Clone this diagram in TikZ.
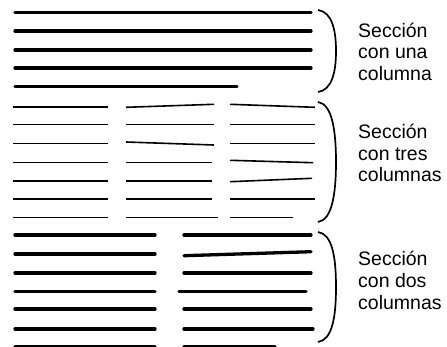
\documentclass[tikz,border=0pt]{standalone}
\usepackage{fontspec}
\setmainfont{Liberation Sans}

\begin{document}
\begin{tikzpicture}[x=1pt,y=-1pt,
        wide/.style={line width=3.3pt,line cap=round},
        narrow/.style={line width=1.6pt},
        brace/.style={line width=1.7pt},
        tag/.style={anchor=base west,align=left,inner sep=0pt,
            font=\fontsize{19.5}{21.7}\selectfont}]
        \useasboundingbox (0,0) rectangle (447,346);
        \clip (0,0) rectangle (447,346);

        % una columna
        \foreach \y in {12.5,31,50,68}
            \draw[wide] (15,\y) -- (311,\y);
        \draw[wide] (15,86.5) -- (237,86.5);
        \draw[brace] (318,10) .. controls (332,12) and (336,30) .. (336,51)
            .. controls (336,72) and (332,90) .. (318,92);
        % base anchor sits on the last line
        \node[tag] (una) at (358,80.4) {Sección\\con una\\columna};

        % tres columnas
        \foreach \y in {106.7,124.3,143.5,162.5,180.7,199,217.3}
            \draw[narrow] (13,\y) -- (108,\y);
        \draw[narrow] (126,107.3) -- (214,104.3);
        \draw[narrow] (126,124.3) -- (214,124.3);
        \draw[narrow] (126,142) -- (214,145);
        \foreach \y in {162.5,180.7,199}
            \draw[narrow] (126,\y) -- (212,\y);
        \draw[narrow] (126,217.3) -- (218,217.3);
        \draw[narrow] (230,104.3) -- (315,107.3);
        \foreach \y in {124.3,143.5,199}
            \draw[narrow] (230,\y) -- (315,\y);
        \draw[narrow] (230,160.3) -- (313,162.7);
        \draw[narrow] (230,181.7) -- (312,178.3);
        \draw[narrow] (230,217.3) -- (293,217.3);
        \draw[brace] (318,102) .. controls (332,104) and (336,130) .. (336,162)
            .. controls (336,194) and (332,220) .. (318,222);
        \node[tag] (tres) at (358,181.7) {Sección\\con tres\\columnas};

        % dos columnas
        \foreach \y in {235,254,273,291.5,309,329,346.5}
            \draw[wide] (15,\y) -- (155,\y);
        \foreach \y in {235,273,309}
            \draw[wide] (184,\y) -- (311,\y);
        \draw[wide] (184,255.7) -- (311,251.7);
        \draw[wide] (179,291.5) -- (306,291.5);
        \draw[wide] (184,329) -- (313,329);
        \draw[wide] (184,346.5) -- (275,346.5);
        \draw[brace] (318,232) .. controls (332,234) and (336,256) .. (336,287)
            .. controls (336,318) and (332,340) .. (318,342);
        \node[tag] (dos) at (358,309) {Sección\\con dos\\columnas};
\end{tikzpicture}
\end{document}
